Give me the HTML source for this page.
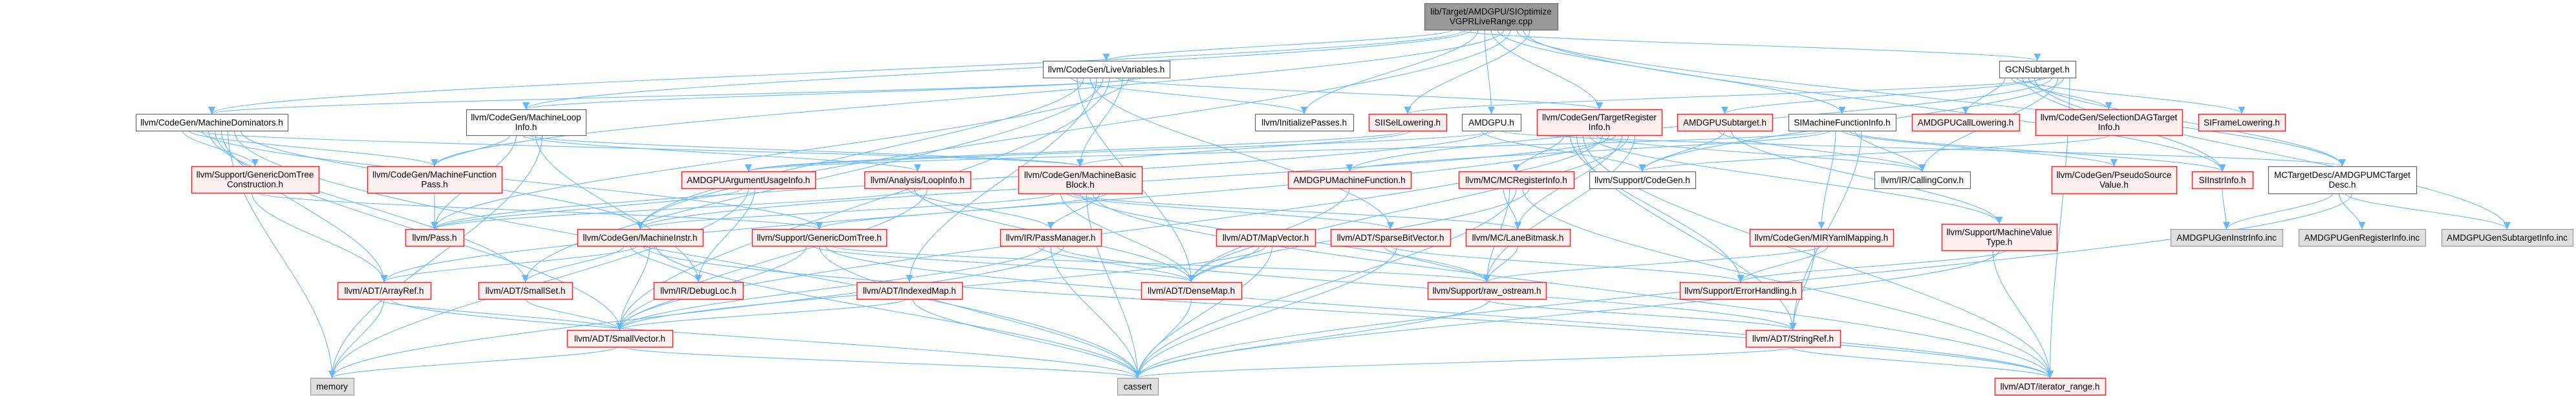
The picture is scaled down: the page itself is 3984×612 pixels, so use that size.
<!DOCTYPE html>
<html><head><meta charset="utf-8">
<style>
html,body{margin:0;padding:0;background:#fff;}
svg{display:block;}
text{font-family:"Liberation Sans",Arial,sans-serif;font-size:13.5px;fill:#000;}
</style></head>
<body>
<svg id="g" width="3984" height="612" viewBox="0 0 3984 612" xmlns="http://www.w3.org/2000/svg">
<defs>
<marker id="ah" viewBox="0 0 10 10" refX="10" refY="5" markerWidth="11" markerHeight="11" markerUnits="userSpaceOnUse" orient="auto">
<path d="M0,0 L10,5 L0,10 z" fill="#63b8ff"/>
</marker>
</defs>
<g id="edges" fill="none" stroke="#63b8ff" stroke-width="1.1"></g>
<g id="nodes"></g>
</svg>
<script>
var N={
T:[["lib/Target/AMDGPU/SIOptimize","VGPRLiveRange.cpp"],2203,5,2409,46,"d"],
LV:[["llvm/CodeGen/LiveVariables.h"],1613,94,1809,120,"w"],
GCN:[["GCNSubtarget.h"],3092,94,3210,120,"w"],
MD:[["llvm/CodeGen/MachineDominators.h"],210,176,445,202,"w"],
MLI:[["llvm/CodeGen/MachineLoop","Info.h"],721,169,906,209,"w"],
IP:[["llvm/InitializePasses.h"],1941,176,2093,202,"w"],
SIIS:[["SIISelLowering.h"],2117,176,2237,202,"r"],
AMDGPU:[["AMDGPU.h"],2261,176,2352,202,"w"],
TRI:[["llvm/CodeGen/TargetRegister","Info.h"],2377,169,2570,209,"r"],
AST:[["AMDGPUSubtarget.h"],2594,176,2741,202,"r"],
SIMFI:[["SIMachineFunctionInfo.h"],2766,176,2932,202,"w"],
ACL:[["AMDGPUCallLowering.h"],2957,176,3123,202,"r"],
SDAG:[["llvm/CodeGen/SelectionDAGTarget","Info.h"],3148,169,3375,209,"r"],
SIFL:[["SIFrameLowering.h"],3400,176,3534,202,"r"],
GDTC:[["llvm/Support/GenericDomTree","Construction.h"],296,257,493,298,"r"],
MFP:[["llvm/CodeGen/MachineFunction","Pass.h"],568,257,776,298,"r"],
AAUI:[["AMDGPUArgumentUsageInfo.h"],1054,265,1261,291,"r"],
LI:[["llvm/Analysis/LoopInfo.h"],1337,265,1501,291,"r"],
MBB:[["llvm/CodeGen/MachineBasic","Block.h"],1575,257,1766,299,"r"],
AMF:[["AMDGPUMachineFunction.h"],1992,265,2182,291,"r"],
MCRI:[["llvm/MC/MCRegisterInfo.h"],2256,265,2434,291,"r"],
SCG:[["llvm/Support/CodeGen.h"],2458,265,2622,291,"w"],
CC:[["llvm/IR/CallingConv.h"],2899,265,3047,291,"w"],
PSV:[["llvm/CodeGen/PseudoSource","Value.h"],3173,257,3366,299,"r"],
SIII:[["SIInstrInfo.h"],3390,265,3484,291,"r"],
MCTD:[["MCTargetDesc/AMDGPUMCTarget","Desc.h"],3508,257,3737,299,"w"],
Pass:[["llvm/Pass.h"],627,354,717,380,"r"],
MI:[["llvm/CodeGen/MachineInstr.h"],893,354,1087,380,"r"],
GDT:[["llvm/Support/GenericDomTree.h"],1163,354,1371,380,"r"],
PM:[["llvm/IR/PassManager.h"],1547,354,1703,380,"r"],
MV:[["llvm/ADT/MapVector.h"],1881,354,2034,380,"r"],
SBV:[["llvm/ADT/SparseBitVector.h"],2058,354,2243,380,"r"],
LBM:[["llvm/MC/LaneBitmask.h"],2267,354,2428,380,"r"],
MIRY:[["llvm/CodeGen/MIRYamlMapping.h"],2706,354,2928,380,"r"],
MVT:[["llvm/Support/MachineValue","Type.h"],3003,346,3181,387,"r"],
GII:[["AMDGPUGenInstrInfo.inc"],3357,354,3530,380,"g"],
GRI:[["AMDGPUGenRegisterInfo.inc"],3555,354,3751,380,"g"],
GSI:[["AMDGPUGenSubtargetInfo.inc"],3776,354,3979,380,"g"],
AR:[["llvm/ADT/ArrayRef.h"],522,436,666,462,"r"],
SS:[["llvm/ADT/SmallSet.h"],740,436,885,462,"r"],
DL:[["llvm/IR/DebugLoc.h"],1011,436,1149,462,"r"],
IM:[["llvm/ADT/IndexedMap.h"],1325,436,1488,462,"r"],
DM:[["llvm/ADT/DenseMap.h"],1765,436,1920,462,"r"],
RO:[["llvm/Support/raw_ostream.h"],2208,436,2391,462,"r"],
EH:[["llvm/Support/ErrorHandling.h"],2598,436,2786,462,"r"],
SV:[["llvm/ADT/SmallVector.h"],877,510,1040,536,"r"],
SR:[["llvm/ADT/StringRef.h"],2700,510,2846,536,"r"],
MEM:[["memory"],480,584,547,610,"g"],
CA:[["cassert"],1728,584,1791,610,"g"],
IR:[["llvm/ADT/iterator_range.h"],3085,584,3256,610,"r"]
};
var E={
T:["LV","GCN","MD","MLI","IP","AMDGPU","TRI","SIMFI","MFP","MI","MCTD","SIII","SIIS"],
LV:["IP","DM","MI","SBV","IM","SS","SV","TRI","MBB","Pass","MLI","MD"],
GCN:["ACL","SDAG","SIFL","SIII","MCTD","GSI","AST","SIIS","AMF","CC","SCG","IR"],
MD:["GDTC","MFP","MBB","GDT","SS","SV","AR","MEM","CA","MI"],
MLI:["MFP","Pass","LI","MBB","DL","MEM"],
GDTC:["AR","GDT"],
MFP:["Pass"],
AMDGPU:["SCG","Pass","AAUI","MCTD"],
TRI:["MCRI","EH","SR","IR","MVT","CC","SV","AR","MI","LBM","DM","RO"],
SIMFI:["AAUI","AMF","MIRY","PSV","SIII","CC","SR"],
AST:["CC","SCG","MVT"],
SIIS:["AAUI","MBB"],
SDAG:["SCG"],
AAUI:["Pass","MEM","DL"],
LI:["PM","DM","Pass","SV"],
MBB:["MI","DM","SBV","LBM","RO","CA","IR","PM","GDT"],
AMF:["DM"],
MCRI:["LBM","RO","CA","IR","DM"],
SIII:["GII"],
MCTD:["GII","GRI","GSI","CA"],
MI:["SS","DL","AR","IR","SV","CA"],
GDT:["SV","DM","CA","IR","RO"],
PM:["DM","SV","CA","SR","MEM"],
MV:["DM","SV","CA"],
SBV:["RO","EH","CA"],
LBM:["RO"],
MIRY:["SR","RO","EH"],
MVT:["IR","CA","EH"],
AR:["SV","MEM","CA"],
SS:["SV"],
IM:["SV","CA"],
DM:["CA"],
RO:["SR","CA"],
SV:["MEM","CA"],
SR:["IR","CA"]
};
var ns="http://www.w3.org/2000/svg";
var eg=document.getElementById("edges"),ng=document.getElementById("nodes");
function cx(n){return (n[1]+n[3])/2;}
for(var s in E){E[s].forEach(function(t,i){
 var a=N[s],b=N[t],d;
 var k=E[s].length, off=(i-(k-1)/2)*Math.min(10,(a[3]-a[1])/(k+1));
 var sx=cx(a)+off, sy=a[4], tx=cx(b), ty=b[2];
 if(ty>sy+5){
  var dy=ty-sy;
  d="M"+sx+","+sy+" C"+sx+","+(sy+dy*0.35)+" "+tx+","+(ty-dy*0.35)+" "+tx+","+ty;
 } else {
  var sy2=(a[2]+a[4])/2, ty2=(b[2]+b[4])/2;
  if(b[1]>a[3]){sx=a[3];tx=b[1];}else{sx=a[1];tx=b[3];}
  d="M"+sx+","+sy2+" C"+((sx+tx)/2)+","+sy2+" "+((sx+tx)/2)+","+ty2+" "+tx+","+ty2;
 }
 var p=document.createElementNS(ns,"path");p.setAttribute("d",d);p.setAttribute("marker-end","url(#ah)");eg.appendChild(p);
});}
</script>
<script>
var st={d:["#999999","#666666"],w:["#ffffff","#666666"],r:["#fff0f0","#ff2020"],g:["#e0e0e0","#999999"]};
for(var k in N){var n=N[k];
 var r=document.createElementNS(ns,"rect");
 r.setAttribute("x",n[1]+0.5);r.setAttribute("y",n[2]+0.5);r.setAttribute("width",n[3]-n[1]);r.setAttribute("height",n[4]-n[2]);
 r.setAttribute("fill",st[n[5]][0]);r.setAttribute("stroke",st[n[5]][1]);r.setAttribute("stroke-width",n[5]=="r"?1.5:1.2);
 ng.appendChild(r);
 var L=n[0],h=n[4]-n[2];
 L.forEach(function(s,i){
  var t=document.createElementNS(ns,"text");
  t.setAttribute("x",cx(n));t.setAttribute("text-anchor","middle");
  var y=L.length==1?(n[2]+h/2+5):(n[2]+h/2-3+i*15);
  t.setAttribute("y",y);t.textContent=s;ng.appendChild(t);
 });
}
</script>
</body></html>
